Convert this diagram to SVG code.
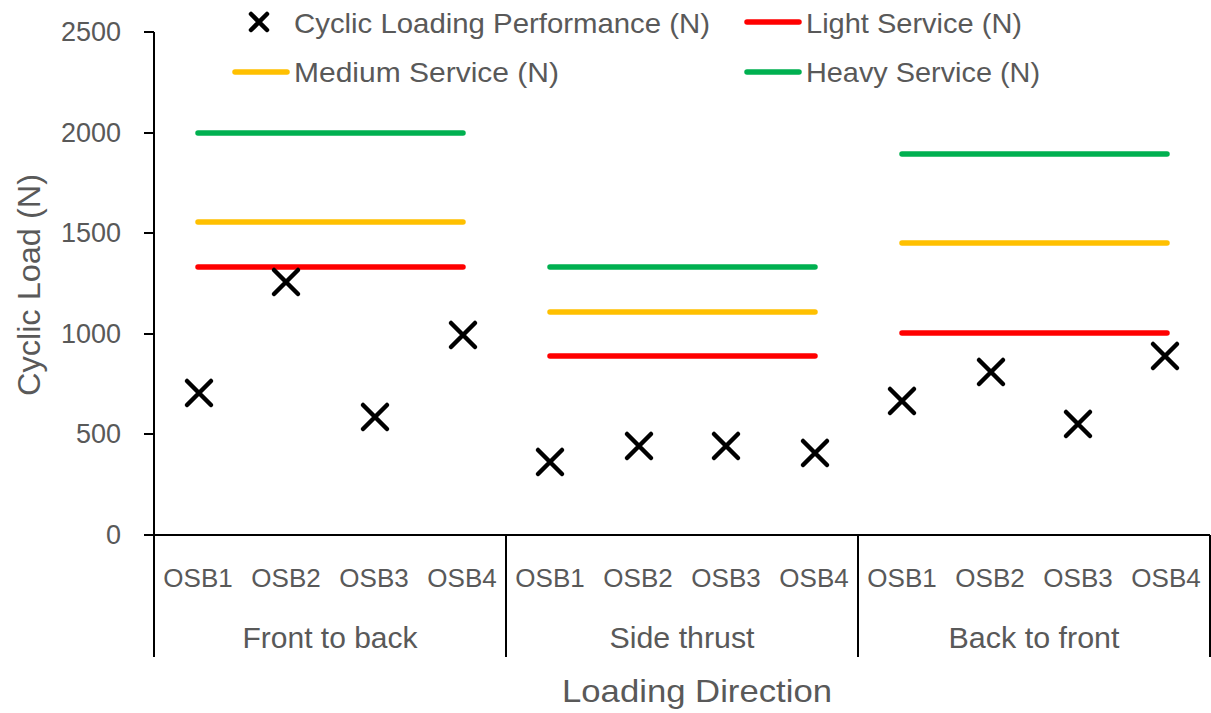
<svg xmlns="http://www.w3.org/2000/svg" width="1211" height="713" viewBox="0 0 1211 713">
<style>
text{font-family:"Liberation Sans",Arial,sans-serif;fill:#595959}
.tick{font-size:27px;text-anchor:end}
.cat{font-size:26px;text-anchor:middle}
.grp{font-size:29px;text-anchor:middle}
.leg{font-size:28px}
.title{font-size:32px;text-anchor:middle}
.ax{stroke:#000;stroke-width:2;fill:none}
.lt{stroke:#FF0000;stroke-width:5.5;stroke-linecap:round}
.md{stroke:#FFC000;stroke-width:5.5;stroke-linecap:round}
.hv{stroke:#00B050;stroke-width:5.5;stroke-linecap:round}
.mk{stroke:#000;stroke-width:4.5;stroke-linecap:round}
</style>
<defs>
<path id="x" class="mk" d="M-12,-12L12,12M-12,12L12,-12"/>
<path id="xs" class="mk" d="M-8,-8L8,8M-8,8L8,-8"/>
</defs>
<rect width="1211" height="713" fill="#fff"/>
<g id="axes">
<path class="ax" d="M154,32V657M144,535H1210M506,535V657M858,535V657M1210,535V657M144,32H154M144,133H154M144,233H154M144,334H154M144,434H154"/>
</g>
<g id="y-labels">
<text class="tick" x="121" y="41">2500</text>
<text class="tick" x="121" y="142">2000</text>
<text class="tick" x="121" y="242">1500</text>
<text class="tick" x="121" y="343">1000</text>
<text class="tick" x="121" y="443">500</text>
<text class="tick" x="121" y="544">0</text>
</g>
<text id="y-title" class="title" transform="translate(40,285) rotate(-90)" textLength="222" lengthAdjust="spacingAndGlyphs">Cyclic Load (N)</text>
<g id="x-labels">
<text class="cat" x="198" y="587">OSB1</text>
<text class="cat" x="286" y="587">OSB2</text>
<text class="cat" x="374" y="587">OSB3</text>
<text class="cat" x="462" y="587">OSB4</text>
<text class="cat" x="550" y="587">OSB1</text>
<text class="cat" x="638" y="587">OSB2</text>
<text class="cat" x="726" y="587">OSB3</text>
<text class="cat" x="814" y="587">OSB4</text>
<text class="cat" x="902" y="587">OSB1</text>
<text class="cat" x="990" y="587">OSB2</text>
<text class="cat" x="1078" y="587">OSB3</text>
<text class="cat" x="1166" y="587">OSB4</text>
<text class="grp" x="330" y="648" textLength="175" lengthAdjust="spacingAndGlyphs">Front to back</text>
<text class="grp" x="682" y="648" textLength="145" lengthAdjust="spacingAndGlyphs">Side thrust</text>
<text class="grp" x="1034" y="648" textLength="171" lengthAdjust="spacingAndGlyphs">Back to front</text>
</g>
<text id="x-title" class="title" x="697" y="702" textLength="270" lengthAdjust="spacingAndGlyphs">Loading Direction</text>
<g id="service-lines">
<path class="hv" d="M198,133H463M550,267H815M902,154H1167"/>
<path class="md" d="M198,222H463M550,312H815M902,243H1167"/>
<path class="lt" d="M198,267H463M550,356H815M902,333H1167"/>
</g>
<g id="performance">
<use href="#x" x="199" y="393"/>
<use href="#x" x="286" y="282"/>
<use href="#x" x="375" y="417"/>
<use href="#x" x="463" y="335"/>
<use href="#x" x="550" y="462"/>
<use href="#x" x="639" y="446"/>
<use href="#x" x="726" y="446"/>
<use href="#x" x="815" y="453"/>
<use href="#x" x="902" y="401"/>
<use href="#x" x="991" y="372"/>
<use href="#x" x="1078" y="424"/>
<use href="#x" x="1165" y="356"/>
</g>
<g id="legend">
<use href="#xs" x="259" y="22"/>
<text class="leg" x="294" y="33" textLength="416" lengthAdjust="spacingAndGlyphs">Cyclic Loading Performance (N)</text>
<line class="lt" x1="747" y1="22" x2="799" y2="22"/>
<text class="leg" x="806" y="33" textLength="216" lengthAdjust="spacingAndGlyphs">Light Service (N)</text>
<line class="md" x1="235" y1="72" x2="287" y2="72"/>
<text class="leg" x="294" y="82" textLength="265" lengthAdjust="spacingAndGlyphs">Medium Service (N)</text>
<line class="hv" x1="747" y1="72" x2="799" y2="72"/>
<text class="leg" x="806" y="82" textLength="234" lengthAdjust="spacingAndGlyphs">Heavy Service (N)</text>
</g>
</svg>
